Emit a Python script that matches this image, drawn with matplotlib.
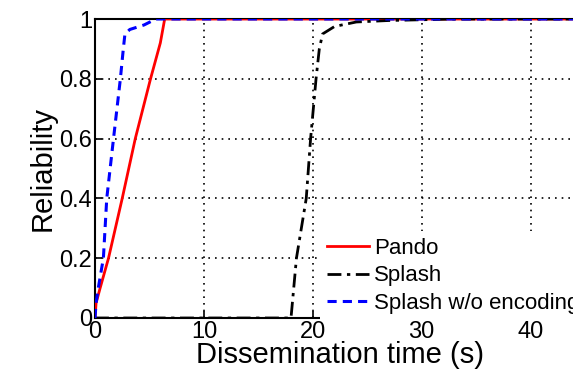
import matplotlib
matplotlib.use("Agg")
import matplotlib.pyplot as plt

plt.rcParams['font.family'] = ['Liberation Sans', 'DejaVu Sans']

pando_t = [0, 0.1, 0.47, 1.24, 2.5, 3.7, 5.1, 6.0, 6.4, 50]
pando_r = [0.0, 0.05, 0.1, 0.2, 0.4, 0.6, 0.8, 0.92, 1.0, 1.0]

nocode_t = [0, 0.1, 0.3, 0.77, 1.08, 1.7, 2.33, 2.6, 2.75, 3.2, 4.5, 5.6, 50]
nocode_r = [0.0, 0.05, 0.1, 0.2, 0.4, 0.6, 0.8, 0.9, 0.95, 0.965, 0.98, 1.0, 1.0]

splash_t = [0, 18.0, 18.5, 19.4, 19.8, 20.3, 20.6, 20.9, 22.0, 24.0, 27.0, 33.0, 50]
splash_r = [0.0, 0.0, 0.2, 0.4, 0.6, 0.8, 0.9, 0.95, 0.975, 0.99, 0.995, 1.0, 1.0]

xticks = [0, 10, 20, 30, 40]
yticks = [0, 0.2, 0.4, 0.6, 0.8, 1]
ytick_labels = ['0', '0.2', '0.4', '0.6', '0.8', '1']

fig = plt.figure(figsize=(5.73, 3.75), dpi=100)
ax = fig.add_axes([95/573, 1 - 318/375, 490/573, 299/375])

ax.plot(pando_t, pando_r, color='#ff0000', lw=2, label='Pando', zorder=3)
ax.plot(splash_t, splash_r, color='black', lw=2, linestyle=(0, (5, 2, 1.2, 2)), label='Splash', zorder=3)
ax.plot(nocode_t, nocode_r, color='#0000ff', lw=2.2, linestyle=(0, (3, 2)), label='Splash w/o encoding', zorder=4)

ax.set_xlim(0, 45)
ax.set_ylim(0, 1)
ax.set_xticks(xticks)
ax.set_yticks(yticks)
ax.set_yticklabels(ytick_labels)
ax.tick_params(direction='in', labelsize=17, length=5, width=1.2, pad=2)
ax.grid(True, color='black', linestyle=(0, (1, 3)), linewidth=1.2)
for s in ax.spines.values():
    s.set_linewidth(1.5)

ax.set_xlabel('Dissemination time (s)', fontsize=21, labelpad=-1)
ax.set_ylabel('Reliability', fontsize=21, labelpad=2)

leg = ax.legend(loc='upper left', bbox_to_anchor=(320/573, 1 - 231/375),
                bbox_transform=fig.transFigure, borderaxespad=0, fontsize=16,
                handlelength=1.9, handletextpad=0.25, labelspacing=0.3,
                borderpad=0.3, fancybox=False, framealpha=1)
leg.get_frame().set_edgecolor('none')
leg.get_frame().set_facecolor('white')

fig.savefig('out.png', dpi=100)
